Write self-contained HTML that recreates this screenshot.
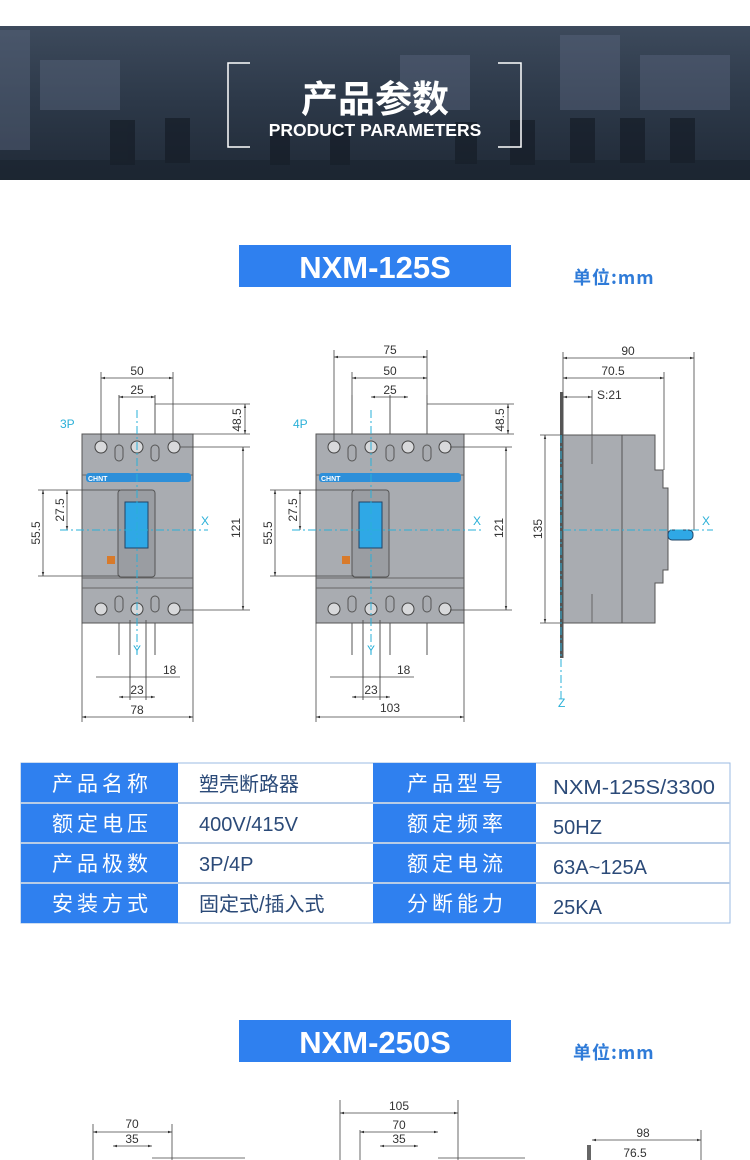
<!DOCTYPE html>
<html><head><meta charset="utf-8"><style>
html,body{margin:0;padding:0;background:#fff;}
svg{display:block}
</style></head><body>
<svg width="750" height="1160" viewBox="0 0 750 1160" xmlns="http://www.w3.org/2000/svg" font-family="Liberation Sans, 'Noto Sans CJK SC', sans-serif">
<defs>
<linearGradient id="bg" x1="0" y1="0" x2="0" y2="1">
<stop offset="0" stop-color="#3d4a5c"/><stop offset="0.5" stop-color="#2c3848"/><stop offset="1" stop-color="#202a37"/></linearGradient>
<marker id="a" viewBox="0 0 10 10" refX="10" refY="5" markerWidth="7" markerHeight="5" orient="auto-start-reverse"><path d="M0,2 L10,5 L0,8z" fill="#333"/></marker>
</defs>
<!-- banner -->
<rect x="0" y="26" width="750" height="154" fill="url(#bg)"/>
<g fill="#5a677e" opacity="0.45">
<rect x="40" y="60" width="80" height="50"/><rect x="400" y="55" width="70" height="55"/><rect x="560" y="35" width="60" height="75"/><rect x="640" y="55" width="90" height="55"/><rect x="0" y="30" width="30" height="120"/>
</g>
<g fill="#141b25" opacity="0.65">
<rect x="110" y="120" width="25" height="45"/><rect x="165" y="118" width="25" height="45"/><rect x="270" y="125" width="20" height="40"/><rect x="330" y="125" width="20" height="40"/><rect x="455" y="122" width="22" height="42"/><rect x="510" y="120" width="25" height="45"/><rect x="570" y="118" width="25" height="45"/><rect x="620" y="118" width="25" height="45"/><rect x="670" y="118" width="25" height="45"/>
</g>
<rect x="0" y="160" width="750" height="20" fill="#1a222d" opacity="0.55"/>
<path d="M250,63 H228 V147 H250" fill="none" stroke="#fff" stroke-width="1.5"/>
<path d="M498,63 H521 V147 H498" fill="none" stroke="#fff" stroke-width="1.5"/>
<text x="375" y="112" text-anchor="middle" fill="#fff" font-size="37" font-weight="bold" font-family="'Noto Sans CJK SC', sans-serif">产品参数</text>
<text x="375" y="136" text-anchor="middle" fill="#fff" font-size="17.5" font-weight="bold">PRODUCT PARAMETERS</text>

<!-- model 1 -->
<rect x="239" y="245" width="272" height="42" fill="#2f80ef"/>
<text x="375" y="278" text-anchor="middle" fill="#fff" font-size="31" font-weight="bold">NXM-125S</text>
<text x="573" y="284" fill="#2f7bd8" font-size="18" font-weight="bold" font-family="'Noto Sans CJK SC', sans-serif" letter-spacing="1">单位:mm</text>

<g font-size="12" fill="#333" stroke-width="1">
<!-- 3P -->
<text x="60" y="428" fill="#2ab0d8" font-size="12">3P</text>
<rect x="82" y="434" width="111" height="189" fill="#a9acb1" stroke="#555"/>
<line x1="82" y1="475" x2="193" y2="475" stroke="#666"/>
<rect x="86" y="473" width="105" height="9" rx="3" fill="#2d8fd9"/>
<text x="88" y="481" fill="#fff" font-size="7" font-weight="bold">CHNT</text>
<line x1="82" y1="578" x2="193" y2="578" stroke="#666"/>
<line x1="82" y1="588" x2="193" y2="588" stroke="#666"/>
<rect x="118" y="490" width="37" height="87" rx="3" fill="#9a9da2" stroke="#555"/>
<rect x="125" y="502" width="23" height="46" fill="#2fa8e6" stroke="#246"/>
<rect x="107" y="556" width="8" height="8" fill="#d87a2a"/>
<g fill="#d8d9db" stroke="#444"><circle cx="101" cy="447" r="6"/><circle cx="137" cy="447" r="6"/><circle cx="174" cy="447" r="6"/><circle cx="101" cy="609" r="6"/><circle cx="137" cy="609" r="6"/><circle cx="174" cy="609" r="6"/></g>
<g fill="none" stroke="#555"><rect x="115" y="445" width="8" height="16" rx="4"/><rect x="151" y="445" width="8" height="16" rx="4"/><rect x="115" y="596" width="8" height="16" rx="4"/><rect x="151" y="596" width="8" height="16" rx="4"/></g>
<g stroke="#555"><line x1="119" y1="395" x2="119" y2="434"/><line x1="155" y1="395" x2="155" y2="434"/><line x1="119" y1="623" x2="119" y2="655"/><line x1="155" y1="623" x2="155" y2="655"/>
<line x1="130" y1="620" x2="130" y2="700"/><line x1="146" y1="620" x2="146" y2="700"/></g>
<g stroke="#444" stroke-width="0.8">
<line x1="101" y1="372" x2="101" y2="440"/><line x1="173" y1="372" x2="173" y2="440"/>
<line x1="101" y1="378" x2="173" y2="378" marker-start="url(#a)" marker-end="url(#a)"/>
<line x1="119" y1="397" x2="155" y2="397" marker-start="url(#a)" marker-end="url(#a)"/>
<line x1="155" y1="404" x2="250" y2="404"/><line x1="193" y1="434" x2="250" y2="434"/>
<line x1="245" y1="404" x2="245" y2="434" marker-start="url(#a)" marker-end="url(#a)"/>
<line x1="180" y1="447" x2="250" y2="447"/><line x1="180" y1="610" x2="250" y2="610"/>
<line x1="243" y1="447" x2="243" y2="610" marker-start="url(#a)" marker-end="url(#a)"/>
<line x1="38" y1="490" x2="120" y2="490"/><line x1="38" y1="576" x2="120" y2="576"/>
<line x1="43" y1="490" x2="43" y2="576" marker-start="url(#a)" marker-end="url(#a)"/>
<line x1="67" y1="490" x2="67" y2="530" marker-start="url(#a)" marker-end="url(#a)"/>
<line x1="82" y1="623" x2="82" y2="722"/><line x1="193" y1="623" x2="193" y2="722"/>
<line x1="82" y1="717" x2="193" y2="717" marker-start="url(#a)" marker-end="url(#a)"/>
<line x1="119" y1="697" x2="155" y2="697" marker-start="url(#a)" marker-end="url(#a)"/>
<line x1="96" y1="677" x2="180" y2="677"/>
</g>
<line x1="137" y1="410" x2="137" y2="655" stroke="#2ab0d8" stroke-dasharray="8,3,2,3"/>
<line x1="60" y1="530" x2="208" y2="530" stroke="#2ab0d8" stroke-dasharray="8,3,2,3"/>
<text x="201" y="525" fill="#2ab0d8">X</text><text x="133" y="654" fill="#2ab0d8">Y</text>
<text x="137" y="375" text-anchor="middle">50</text><text x="137" y="394" text-anchor="middle">25</text>
<text x="163" y="674">18</text><text x="137" y="694" text-anchor="middle">23</text><text x="137" y="714" text-anchor="middle">78</text>
<text transform="translate(241,420) rotate(-90)" text-anchor="middle">48.5</text>
<text transform="translate(240,528) rotate(-90)" text-anchor="middle">121</text>
<text transform="translate(40,533) rotate(-90)" text-anchor="middle">55.5</text>
<text transform="translate(64,510) rotate(-90)" text-anchor="middle">27.5</text>

<!-- 4P -->
<text x="293" y="428" fill="#2ab0d8" font-size="12">4P</text>
<rect x="316" y="434" width="148" height="189" fill="#a9acb1" stroke="#555"/>
<line x1="316" y1="475" x2="464" y2="475" stroke="#666"/>
<rect x="319" y="473" width="142" height="9" rx="3" fill="#2d8fd9"/>
<text x="321" y="481" fill="#fff" font-size="7" font-weight="bold">CHNT</text>
<line x1="316" y1="578" x2="464" y2="578" stroke="#666"/>
<line x1="316" y1="588" x2="464" y2="588" stroke="#666"/>
<rect x="352" y="490" width="37" height="87" rx="3" fill="#9a9da2" stroke="#555"/>
<rect x="359" y="502" width="23" height="46" fill="#2fa8e6" stroke="#246"/>
<rect x="342" y="556" width="8" height="8" fill="#d87a2a"/>
<g fill="#d8d9db" stroke="#444"><circle cx="334" cy="447" r="6"/><circle cx="371" cy="447" r="6"/><circle cx="408" cy="447" r="6"/><circle cx="445" cy="447" r="6"/><circle cx="334" cy="609" r="6"/><circle cx="371" cy="609" r="6"/><circle cx="408" cy="609" r="6"/><circle cx="445" cy="609" r="6"/></g>
<g fill="none" stroke="#555"><rect x="348" y="445" width="8" height="16" rx="4"/><rect x="386" y="445" width="8" height="16" rx="4"/><rect x="423" y="445" width="8" height="16" rx="4"/><rect x="348" y="596" width="8" height="16" rx="4"/><rect x="386" y="596" width="8" height="16" rx="4"/><rect x="423" y="596" width="8" height="16" rx="4"/></g>
<g stroke="#555"><line x1="352" y1="395" x2="352" y2="434"/><line x1="390" y1="395" x2="390" y2="434"/><line x1="427" y1="395" x2="427" y2="434"/><line x1="352" y1="623" x2="352" y2="655"/><line x1="390" y1="623" x2="390" y2="655"/><line x1="427" y1="623" x2="427" y2="655"/>
<line x1="363" y1="620" x2="363" y2="700"/><line x1="380" y1="620" x2="380" y2="700"/></g>
<g stroke="#444" stroke-width="0.8">
<line x1="334" y1="350" x2="334" y2="440"/><line x1="427" y1="350" x2="427" y2="395"/><line x1="352" y1="372" x2="352" y2="395"/>
<line x1="334" y1="357" x2="427" y2="357" marker-start="url(#a)" marker-end="url(#a)"/>
<line x1="352" y1="378" x2="427" y2="378" marker-start="url(#a)" marker-end="url(#a)"/>
<line x1="371" y1="397" x2="408" y2="397" marker-start="url(#a)" marker-end="url(#a)"/>
<line x1="427" y1="404" x2="514" y2="404"/><line x1="464" y1="434" x2="514" y2="434"/>
<line x1="508" y1="404" x2="508" y2="434" marker-start="url(#a)" marker-end="url(#a)"/>
<line x1="450" y1="447" x2="512" y2="447"/><line x1="450" y1="610" x2="512" y2="610"/>
<line x1="506" y1="447" x2="506" y2="610" marker-start="url(#a)" marker-end="url(#a)"/>
<line x1="270" y1="490" x2="354" y2="490"/><line x1="270" y1="576" x2="354" y2="576"/>
<line x1="275" y1="490" x2="275" y2="576" marker-start="url(#a)" marker-end="url(#a)"/>
<line x1="300" y1="490" x2="300" y2="530" marker-start="url(#a)" marker-end="url(#a)"/>
<line x1="316" y1="623" x2="316" y2="722"/><line x1="464" y1="623" x2="464" y2="722"/>
<line x1="316" y1="717" x2="464" y2="717" marker-start="url(#a)" marker-end="url(#a)"/>
<line x1="352" y1="697" x2="390" y2="697" marker-start="url(#a)" marker-end="url(#a)"/>
<line x1="330" y1="677" x2="414" y2="677"/>
</g>
<line x1="371" y1="410" x2="371" y2="655" stroke="#2ab0d8" stroke-dasharray="8,3,2,3"/>
<line x1="292" y1="530" x2="482" y2="530" stroke="#2ab0d8" stroke-dasharray="8,3,2,3"/>
<text x="473" y="525" fill="#2ab0d8">X</text><text x="367" y="654" fill="#2ab0d8">Y</text>
<text x="390" y="354" text-anchor="middle">75</text><text x="390" y="375" text-anchor="middle">50</text><text x="390" y="394" text-anchor="middle">25</text>
<text x="397" y="674">18</text><text x="371" y="694" text-anchor="middle">23</text><text x="390" y="712" text-anchor="middle">103</text>
<text transform="translate(504,420) rotate(-90)" text-anchor="middle">48.5</text>
<text transform="translate(503,528) rotate(-90)" text-anchor="middle">121</text>
<text transform="translate(272,533) rotate(-90)" text-anchor="middle">55.5</text>
<text transform="translate(297,510) rotate(-90)" text-anchor="middle">27.5</text>

<!-- side view -->
<rect x="560" y="392" width="3.5" height="266" fill="#555"/>
<path d="M563,435 H655 V470 H663 V488 H668 V570 H663 V583 H655 V623 H563z" fill="#a9acb1" stroke="#555"/>
<line x1="622" y1="435" x2="622" y2="623" stroke="#555"/>
<line x1="592" y1="435" x2="592" y2="464" stroke="#666"/><line x1="592" y1="594" x2="592" y2="623" stroke="#666"/>
<rect x="668" y="530" width="25" height="10" rx="4" fill="#2fa8e6" stroke="#246"/>
<g stroke="#444" stroke-width="0.8">
<line x1="563" y1="352" x2="563" y2="392"/><line x1="694" y1="352" x2="694" y2="530"/><line x1="664" y1="372" x2="664" y2="470"/><line x1="592" y1="390" x2="592" y2="435"/>
<line x1="563" y1="358" x2="694" y2="358" marker-start="url(#a)" marker-end="url(#a)"/>
<line x1="563" y1="378" x2="664" y2="378" marker-start="url(#a)" marker-end="url(#a)"/>
<line x1="563" y1="397" x2="592" y2="397" marker-start="url(#a)" marker-end="url(#a)"/>
<line x1="540" y1="435" x2="563" y2="435"/><line x1="540" y1="623" x2="563" y2="623"/>
<line x1="545" y1="435" x2="545" y2="623" marker-start="url(#a)" marker-end="url(#a)"/>
</g>
<line x1="561" y1="435" x2="561" y2="700" stroke="#2ab0d8" stroke-dasharray="8,3,2,3"/>
<line x1="563" y1="530" x2="713" y2="530" stroke="#2ab0d8" stroke-dasharray="8,3,2,3"/>
<text x="702" y="525" fill="#2ab0d8">X</text><text x="558" y="707" fill="#2ab0d8">Z</text>
<text x="628" y="355" text-anchor="middle">90</text><text x="613" y="375" text-anchor="middle">70.5</text><text x="597" y="399">S:21</text>
<text transform="translate(542,529) rotate(-90)" text-anchor="middle">135</text>
</g>

<!-- table -->
<rect x="21" y="763" width="709" height="160" fill="#fff" stroke="#9bbbe3"/>
<rect x="21" y="763" width="157" height="160" fill="#2f80ef"/>
<rect x="373" y="763" width="163" height="160" fill="#2f80ef"/>
<g stroke="#b8cce6" stroke-width="2"><line x1="21" y1="803" x2="730" y2="803"/><line x1="21" y1="843" x2="730" y2="843"/><line x1="21" y1="883" x2="730" y2="883"/></g>
<g font-size="21" fill="#fff" font-family="'Noto Sans CJK SC', sans-serif" letter-spacing="4" text-anchor="middle">
<text x="102" y="791">产品名称</text><text x="102" y="831">额定电压</text><text x="102" y="871">产品极数</text><text x="102" y="911">安装方式</text>
<text x="457" y="791">产品型号</text><text x="457" y="831">额定频率</text><text x="457" y="871">额定电流</text><text x="457" y="911">分断能力</text>
</g>
<g font-size="20" fill="#2b4a78" font-family="'Liberation Sans','Noto Sans CJK SC', sans-serif">
<text x="199" y="791">塑壳断路器</text><text x="199" y="831">400V/415V</text><text x="199" y="871">3P/4P</text><text x="199" y="911">固定式/插入式</text>
<text x="553" y="794" textLength="162" lengthAdjust="spacingAndGlyphs">NXM-125S/3300</text><text x="553" y="834">50HZ</text><text x="553" y="874">63A~125A</text><text x="553" y="914">25KA</text>
</g>

<!-- model 2 -->
<rect x="239" y="1020" width="272" height="42" fill="#2f80ef"/>
<text x="375" y="1053" text-anchor="middle" fill="#fff" font-size="31" font-weight="bold">NXM-250S</text>
<text x="573" y="1059" fill="#2f7bd8" font-size="18" font-weight="bold" font-family="'Noto Sans CJK SC', sans-serif" letter-spacing="1">单位:mm</text>
<g font-size="12" fill="#333">
<g stroke="#444" stroke-width="0.8">
<line x1="93" y1="1124" x2="93" y2="1160"/><line x1="172" y1="1124" x2="172" y2="1160"/>
<line x1="93" y1="1132" x2="172" y2="1132" marker-start="url(#a)" marker-end="url(#a)"/>
<line x1="113" y1="1146" x2="152" y2="1146" marker-start="url(#a)" marker-end="url(#a)"/>
<line x1="152" y1="1158" x2="245" y2="1158"/>
<line x1="340" y1="1100" x2="340" y2="1160"/><line x1="458" y1="1100" x2="458" y2="1160"/><line x1="360" y1="1130" x2="360" y2="1160"/>
<line x1="340" y1="1113" x2="458" y2="1113" marker-start="url(#a)" marker-end="url(#a)"/>
<line x1="360" y1="1132" x2="438" y2="1132" marker-start="url(#a)" marker-end="url(#a)"/>
<line x1="380" y1="1146" x2="418" y2="1146" marker-start="url(#a)" marker-end="url(#a)"/>
<line x1="438" y1="1158" x2="525" y2="1158"/>
<line x1="592" y1="1140" x2="701" y2="1140" marker-start="url(#a)" marker-end="url(#a)"/>
<line x1="701" y1="1130" x2="701" y2="1160"/>
</g>
<rect x="587" y="1145" width="4" height="15" fill="#666"/>
<text x="132" y="1128" text-anchor="middle">70</text><text x="132" y="1143" text-anchor="middle">35</text>
<text x="399" y="1110" text-anchor="middle">105</text><text x="399" y="1129" text-anchor="middle">70</text><text x="399" y="1143" text-anchor="middle">35</text>
<text x="643" y="1137" text-anchor="middle">98</text><text x="635" y="1157" text-anchor="middle">76.5</text>
</g>
</svg>
</body></html>
